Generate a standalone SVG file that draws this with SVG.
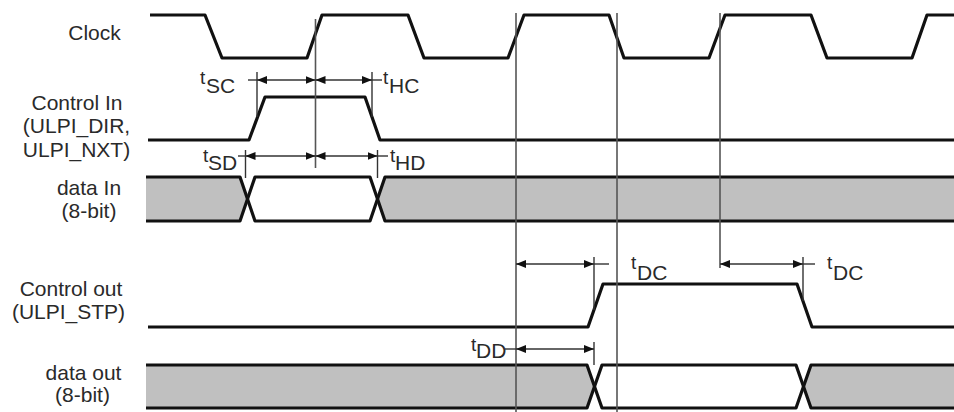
<svg xmlns="http://www.w3.org/2000/svg" width="954" height="412" viewBox="0 0 954 412">
<style>
  .sig { fill: none; stroke: #111; stroke-width: 3.2; stroke-linejoin: round; stroke-linecap: butt; }
  .bus { fill: #c0c0c0; stroke: none; }
  .ref { stroke: #555; stroke-width: 1.6; fill: none; }
  .dim { stroke: #333; stroke-width: 1.4; fill: none; }
  .arr { stroke: #333; stroke-width: 1.4; fill: none; marker-start: url(#ah); marker-end: url(#ah); }
  .lbl { font-family: "Liberation Sans", Arial, sans-serif; font-size: 21px; fill: #2a2a2a; text-anchor: middle; }
  .t { font-family: "Liberation Sans", Arial, sans-serif; font-size: 19px; fill: #2a2a2a; }
  .sub { font-family: "Liberation Sans", Arial, sans-serif; font-size: 21px; fill: #2a2a2a; }
</style>
<defs>
  <marker id="ah" viewBox="0 0 10 8" refX="10" refY="4" markerWidth="10" markerHeight="8" markerUnits="userSpaceOnUse" orient="auto-start-reverse">
    <path d="M0,0 L10,4 L0,8 z" fill="#111"/>
  </marker>
</defs>
<rect width="954" height="412" fill="#fff"/>

<g id="labels">
  <text class="lbl" x="94.5" y="40">Clock</text>
  <text class="lbl" x="77" y="110">Control In</text>
  <text class="lbl" x="76.5" y="133">(ULPI_DIR,</text>
  <text class="lbl" x="76.5" y="157">ULPI_NXT)</text>
  <text class="lbl" x="89" y="195">data In</text>
  <text class="lbl" x="89" y="218">(8-bit)</text>
  <text class="lbl" x="71" y="296">Control out</text>
  <text class="lbl" x="68.5" y="319">(ULPI_STP)</text>
  <text class="lbl" x="83.5" y="380">data out</text>
  <text class="lbl" x="82.5" y="402">(8-bit)</text>
</g>

<g id="clock">
  <path class="sig" d="M150,15 H205 L222,58 H307 L322,15 H408 L424,58 H508 L524,15 H609 L624,58 H709 L725,15 H811 L827,58 H912 L927,15 H954"/>
</g>

<g id="control-in">
  <path class="sig" d="M148,140 H249 L265,97 H365 L380,140 H954"/>
</g>

<g id="data-in">
  <path class="bus" d="M146,177 H240 L247.5,199 L240,221 H146 Z"/>
  <path class="bus" d="M954,177 H385 L377.5,199 L385,221 H954 Z"/>
  <path class="sig" d="M146,177 H240 L255,221 H370 L385,177 H954"/>
  <path class="sig" d="M146,221 H240 L255,177 H370 L385,221 H954"/>
</g>

<g id="control-out">
  <path class="sig" d="M148,327 H588 L603,284 H797 L812,327 H954"/>
</g>

<g id="data-out">
  <path class="bus" d="M146,365 H587 L594.5,386.5 L587,408 H146 Z"/>
  <path class="bus" d="M954,365 H811 L803.5,386.5 L811,408 H954 Z"/>
  <path class="sig" d="M146,365 H587 L602,408 H796 L811,365 H954"/>
  <path class="sig" d="M146,408 H587 L602,365 H796 L811,408 H954"/>
</g>

<g id="connectors">
  <line class="ref" x1="315.5" y1="19" x2="315.5" y2="168"/>
  <line class="ref" x1="516" y1="13" x2="516" y2="412"/>
  <line class="ref" x1="617" y1="13" x2="617" y2="412"/>
  <line class="ref" x1="720" y1="13" x2="720" y2="268"/>
  <line class="dim" x1="257" y1="72" x2="257" y2="117"/>
  <line class="dim" x1="372" y1="72" x2="372" y2="117"/>
  <line class="dim" x1="245.5" y1="150" x2="245.5" y2="178"/>
  <line class="dim" x1="377.5" y1="150" x2="377.5" y2="178"/>
  <line class="dim" x1="594" y1="257" x2="594" y2="310"/>
  <line class="dim" x1="594" y1="342" x2="594" y2="365"/>
  <line class="dim" x1="803" y1="257" x2="803" y2="301"/>
  <line class="dim" x1="248" y1="80" x2="257" y2="80"/>
  <line class="dim" x1="372" y1="80" x2="382" y2="80"/>
  <line class="dim" x1="238" y1="156" x2="245.5" y2="156"/>
  <line class="dim" x1="377.5" y1="156" x2="388" y2="156"/>
  <line class="dim" x1="594" y1="264" x2="609" y2="264"/>
  <line class="dim" x1="803" y1="264" x2="815" y2="264"/>
  <line class="dim" x1="505" y1="349" x2="516" y2="349"/>
  <path class="arr" d="M257,80 H315.5"/>
  <path class="arr" d="M315.5,80 H372"/>
  <path class="arr" d="M245.5,156 H315.5"/>
  <path class="arr" d="M315.5,156 H377.5"/>
  <path class="arr" d="M516,264 H594"/>
  <path class="arr" d="M720,264 H803"/>
  <path class="arr" d="M516,349 H594"/>
</g>

<g id="timing-labels">
  <text><tspan class="t" x="200" y="84">t</tspan><tspan class="sub" x="206" y="93">SC</tspan></text>
  <text><tspan class="t" x="383" y="84">t</tspan><tspan class="sub" x="389" y="93">HC</tspan></text>
  <text><tspan class="t" x="203" y="162">t</tspan><tspan class="sub" x="208" y="170">SD</tspan></text>
  <text><tspan class="t" x="390" y="162">t</tspan><tspan class="sub" x="395" y="170">HD</tspan></text>
  <text><tspan class="t" x="631" y="269">t</tspan><tspan class="sub" x="637" y="280">DC</tspan></text>
  <text><tspan class="t" x="827" y="269">t</tspan><tspan class="sub" x="833" y="280">DC</tspan></text>
  <text><tspan class="t" x="471" y="351">t</tspan><tspan class="sub" x="476" y="358">DD</tspan></text>
</g>
</svg>
